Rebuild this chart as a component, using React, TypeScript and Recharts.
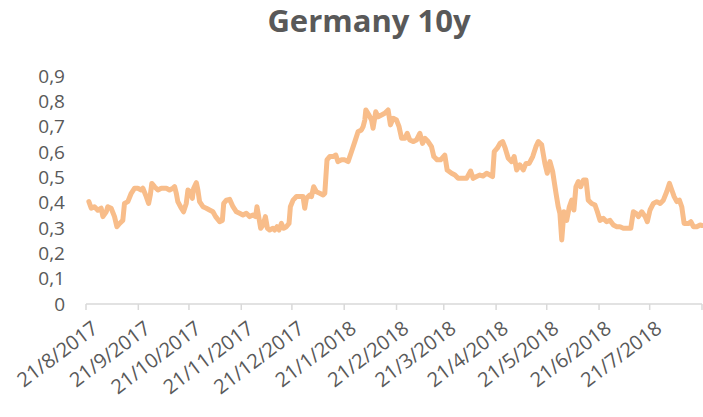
import React from 'react';
import { LineChart, Line, XAxis, YAxis } from 'recharts';

const title = 'Germany 10y';

// days after 21/8/2017
const days = [
  1.7, 3.1, 5, 7, 9, 10, 12, 12.9, 14.9, 16.9, 18.3, 19.9, 21.8, 22.8, 24.8, 26.8, 28.8, 30.7, 32.7, 33.7,
  35.7, 37.1, 38.1, 39, 40.6, 42.6, 44.6, 47.6, 49.5, 51.5, 52.5, 53.5, 54.4, 56.5, 57.8, 59.4, 60.4, 61.8, 63, 63.8,
  65.4, 66.3, 67.3, 69.3, 71.3, 73.2, 75.2, 76.8, 79.2, 80.8, 81.6, 83.2, 85.1, 87.1, 89.1, 91, 93, 95, 97, 98.9,
  100.5, 101.3, 102.5, 103.5, 104.9, 106.3, 107.5, 108.8, 110.8, 111.8, 113.2, 114.4, 115.8, 117.1, 118.7, 120.3, 121.1, 122.7, 124.7, 126.6,
  128.6, 129.6, 130.6, 132.6, 133.6, 134.9, 136.5, 138.5, 140.5, 141.5, 142.8, 144.4, 146.4, 148, 149.3, 151.4, 153.3, 155.3, 157.3, 159.3,
  161.2, 163.2, 164.2, 165.2, 165.8, 167.7, 169.2, 170.1, 171.7, 173.1, 175.1, 177, 179, 180.4, 182, 184, 185.5, 187, 188.9, 190.3,
  191.9, 193.8, 195.8, 197.8, 199.4, 200.8, 202.7, 204.7, 206.1, 208.1, 210.1, 212.6, 214, 216.6, 218.6, 220.5, 223.5, 225.5, 227.9, 229.4,
  231.4, 233.4, 235.3, 237.4, 239.3, 240.9, 241.9, 243.7, 245.3, 246.9, 248.4, 250.2, 252.2, 253.7, 255.2, 257.1, 259.1, 260.7, 262.6, 264.7,
  266.6, 268, 270, 271.9, 273.3, 274.9, 276.5, 278.5, 279.8, 280.8, 281.9, 283.2, 284.8, 286.4, 287.8, 289.1, 290.3, 291.7, 293.1, 294.7,
  296.3, 297.6, 299.6, 301.6, 303, 304.6, 306.5, 308.5, 310.5, 312.5, 314.5, 316.4, 318.4, 320.4, 322.8, 324.3, 325.9, 327.3, 329.3, 331.3,
  332.6, 334.2, 336.2, 338.2, 340.2, 342.1, 344.1, 345.7, 347.1, 348.5, 350.1, 351.6, 353, 354.4, 357, 358.4, 359.9, 361.9, 363.9, 365,
];

const yields = [
  0.404, 0.378, 0.384, 0.37, 0.378, 0.345, 0.364, 0.384, 0.378, 0.345, 0.305, 0.318, 0.33, 0.397, 0.404, 0.437, 0.457, 0.457, 0.45, 0.457,
  0.424, 0.397, 0.43, 0.476, 0.463, 0.45, 0.457, 0.457, 0.45, 0.457, 0.463, 0.437, 0.404, 0.378, 0.364, 0.397, 0.45, 0.443, 0.417, 0.457,
  0.479, 0.45, 0.404, 0.384, 0.378, 0.371, 0.364, 0.345, 0.325, 0.33, 0.397, 0.41, 0.413, 0.384, 0.364, 0.358, 0.351, 0.358, 0.345, 0.351,
  0.345, 0.384, 0.338, 0.299, 0.312, 0.345, 0.299, 0.292, 0.299, 0.292, 0.305, 0.292, 0.318, 0.299, 0.305, 0.318, 0.384, 0.41, 0.424, 0.424,
  0.424, 0.378, 0.417, 0.43, 0.424, 0.463, 0.443, 0.437, 0.43, 0.437, 0.569, 0.582, 0.582, 0.588, 0.562, 0.569, 0.569, 0.562, 0.601, 0.641,
  0.68, 0.687, 0.7, 0.726, 0.766, 0.746, 0.726, 0.694, 0.759, 0.739, 0.746, 0.753, 0.766, 0.707, 0.733, 0.726, 0.7, 0.654, 0.654, 0.674,
  0.647, 0.641, 0.647, 0.674, 0.634, 0.654, 0.641, 0.621, 0.582, 0.569, 0.569, 0.588, 0.529, 0.516, 0.509, 0.496, 0.496, 0.496, 0.525, 0.496,
  0.503, 0.509, 0.505, 0.516, 0.509, 0.503, 0.601, 0.615, 0.634, 0.641, 0.615, 0.575, 0.562, 0.582, 0.529, 0.549, 0.529, 0.555, 0.555, 0.582,
  0.621, 0.641, 0.628, 0.555, 0.516, 0.562, 0.523, 0.437, 0.384, 0.358, 0.253, 0.364, 0.33, 0.384, 0.41, 0.371, 0.463, 0.483, 0.463, 0.489,
  0.489, 0.41, 0.397, 0.391, 0.364, 0.33, 0.338, 0.325, 0.33, 0.312, 0.305, 0.305, 0.299, 0.299, 0.299, 0.364, 0.358, 0.345, 0.364, 0.345,
  0.325, 0.371, 0.397, 0.404, 0.397, 0.41, 0.443, 0.476, 0.45, 0.424, 0.404, 0.41, 0.384, 0.318, 0.318, 0.325, 0.305, 0.305, 0.312, 0.31,
];

const tickLabels = [
  '21/8/2017', '21/9/2017', '21/10/2017', '21/11/2017', '21/12/2017', '21/1/2018',
  '21/2/2018', '21/3/2018', '21/4/2018', '21/5/2018', '21/6/2018', '21/7/2018',
];
const axisEnd = '21/8/2018';
const yTicks = [0, 0.1, 0.2, 0.3, 0.4, 0.5, 0.6, 0.7, 0.8, 0.9];

const parseDay = (s: string) => {
  const [d, m, y] = s.split('/').map(Number);
  return Date.UTC(y, m - 1, d) / 86400000;
};
const start = parseDay(tickLabels[0]);
const xTicks = [...tickLabels, axisEnd].map((s) => parseDay(s) - start);
const labelFor = (v: number) => {
  const i = xTicks.indexOf(v);
  return i >= 0 && i < tickLabels.length ? tickLabels[i] : '';
};

const data = days.map((day, i) => ({ day, value: yields[i] }));

const FONT = '"Open Sans", sans-serif';
const GREY = '#595959';

// rotated date label, end of text just under the tick
const DateTick = (props: any) => {
  const { x, y, payload } = props;
  return (
    <g transform={`translate(${x + 13.5},${y + 21})`}>
      <text transform="rotate(-37)" textAnchor="end" fill={GREY} fontSize={20} fontFamily={FONT}>
        {labelFor(payload.value)}
      </text>
    </g>
  );
};

export default function App() {
  return (
    <div style={{ position: 'absolute', left: 0, top: 0, width: 703, height: 417, background: '#fff', fontFamily: FONT }}>
      <div
        style={{
          position: 'absolute', top: 5, left: 0, width: 738, textAlign: 'center',
          fontSize: 31, lineHeight: '31px', fontWeight: 700, color: GREY,
        }}
      >
        {title}
      </div>
      <LineChart width={703} height={417} data={data} margin={{ top: 76, right: 1, bottom: 0, left: 0 }}>
        <XAxis
          type="number"
          dataKey="day"
          domain={[0, xTicks[xTicks.length - 1]]}
          ticks={xTicks}
          interval={0}
          height={113}
          tickSize={6}
          tickMargin={0}
          stroke="#d9d9d9"
          strokeWidth={1.5}
          tick={<DateTick />}
        />
        <YAxis
          type="number"
          domain={[0, 0.9]}
          ticks={yTicks}
          interval={0}
          width={86}
          axisLine={false}
          tickLine={false}
          tickSize={0}
          tickMargin={21}
          tickFormatter={(v: number) => String(Number(v.toFixed(1))).replace('.', ',')}
          tick={{ fill: GREY, fontSize: 19, fontFamily: FONT }}
        />
        <Line
          type="linear"
          dataKey="value"
          stroke="#F8BD8A"
          strokeWidth={5}
          strokeLinejoin="round"
          strokeLinecap="round"
          dot={false}
          isAnimationActive={false}
        />
      </LineChart>
    </div>
  );
}
